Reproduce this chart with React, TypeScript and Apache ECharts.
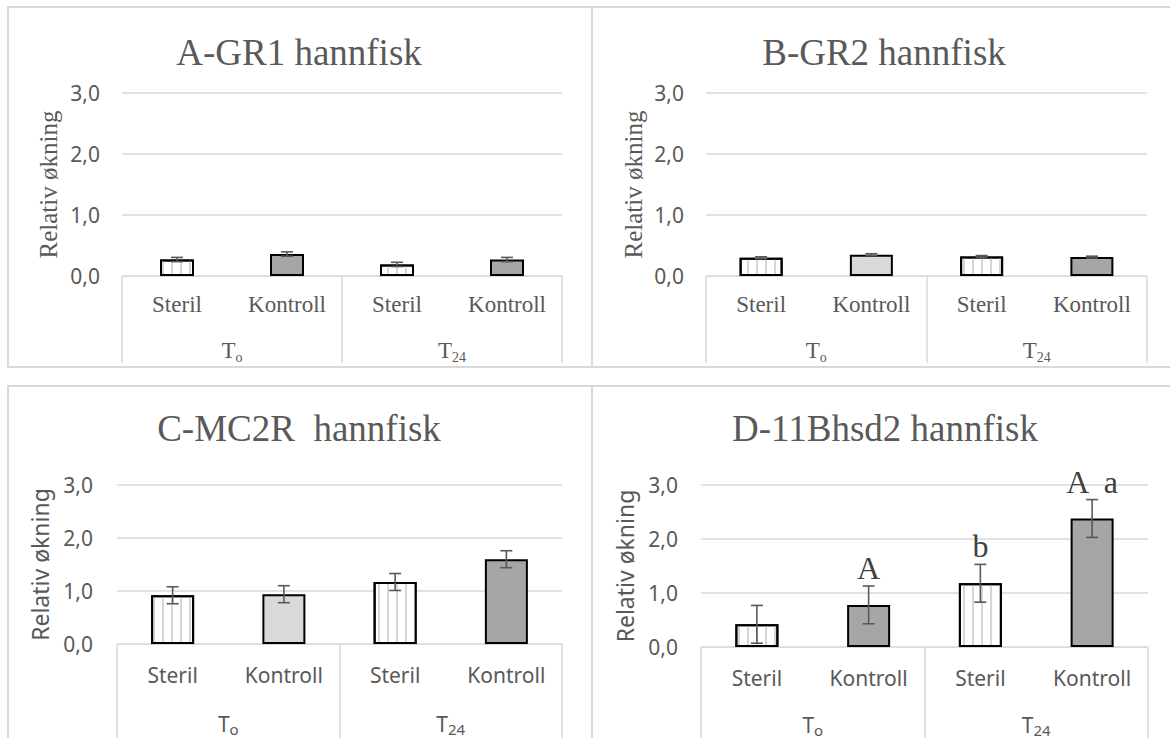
import React, { useEffect, useRef } from 'react';
import * as echarts from 'echarts';

// ---------- data ----------
const categories = ['Steril', 'Kontroll', 'Steril', 'Kontroll'];
const groups = ['To', 'T24'];
const titles = ['A-GR1 hannfisk', 'B-GR2 hannfisk', 'C-MC2R  hannfisk', 'D-11Bhsd2 hannfisk'];
const yAxisName = 'Relativ økning';

const valuesA = [0.27, 0.36, 0.19, 0.27];
const errorsA = [0.035, 0.035, 0.035, 0.035];
const valuesB = [0.30, 0.35, 0.32, 0.31];
const errorsB = [0.015, 0.015, 0.015, 0.015];
const valuesC = [0.92, 0.94, 1.17, 1.60];
const errorsC = [0.16, 0.16, 0.16, 0.16];
const valuesD = [0.42, 0.78, 1.18, 2.38];
const errorsD = [0.35, 0.35, 0.35, 0.35];
const lettersD = ['', 'A', 'b', 'A  a'];

// bar kind per panel: s = steril (striped), d = dark kontroll, l = light kontroll
const kindsA = ['s', 'd', 's', 'd'];
const kindsB = ['s', 'l', 's', 'd'];
const kindsC = ['s', 'l', 's', 'd'];
const kindsD = ['s', 'd', 's', 'd'];

// ---------- styles / layout ----------
const SERIF = 'Liberation Serif';
const SANS = 'Noto Sans';
const TXT = '#595959';
const GRIDC = '#d9d9d9';

const panels = [
  { values: valuesA, errors: errorsA, kinds: kindsA, serifCats: true,
    grid: { left: 122, top: 93, width: 440, height: 183 }, barWidth: 34,
    titleX: 299, titleY: 34, nameX: 48, catMargin: 17, grpMargin: 60, grpLH: 28, grpTick: 87, labelMargin: 22 },
  { values: valuesB, errors: errorsB, kinds: kindsB, serifCats: true,
    grid: { left: 706, top: 93, width: 441, height: 183 }, barWidth: 43,
    titleX: 884, titleY: 34, nameX: 633, catMargin: 17, grpMargin: 60, grpLH: 28, grpTick: 87, labelMargin: 22 },
  { values: valuesC, errors: errorsC, kinds: kindsC, serifCats: false,
    grid: { left: 117, top: 485, width: 445, height: 159 }, barWidth: 43,
    titleX: 299, titleY: 410, nameX: 40, catMargin: 20, grpMargin: 68, grpLH: 24, grpTick: 120, labelMargin: 24 },
  { values: valuesD, errors: errorsD, kinds: kindsD, serifCats: false,
    grid: { left: 701, top: 485, width: 447, height: 162 }, barWidth: 43,
    titleX: 885, titleY: 410, nameX: 625, catMargin: 20, grpMargin: 66, grpLH: 24, grpTick: 120, labelMargin: 23 },
];

const stripeDecal = {
  symbol: 'rect',
  symbolSize: 1,
  dashArrayX: [2, 7],
  dashArrayY: [10, 0],
  rotation: 0,
  color: '#d6d6d6',
  backgroundColor: '#ffffff',
};

function barItem(v: number, kind: string) {
  if (kind === 's') {
    return { value: v, itemStyle: { color: '#ffffff', decal: stripeDecal } };
  }
  return { value: v, itemStyle: { color: kind === 'l' ? '#d9d9d9' : '#a6a6a6' } };
}

function buildOption() {
  const grid: any[] = [];
  const xAxis: any[] = [];
  const yAxis: any[] = [];
  const series: any[] = [];
  const title: any[] = [];
  const graphic: any[] = [];

  // panel frames
  graphic.push(
    { type: 'rect', shape: { x: 8, y: 7, width: 584, height: 360 }, style: { fill: 'none', stroke: GRIDC, lineWidth: 2 }, silent: true },
    { type: 'rect', shape: { x: 592, y: 7, width: 584, height: 360 }, style: { fill: 'none', stroke: GRIDC, lineWidth: 2 }, silent: true },
    { type: 'rect', shape: { x: 8, y: 386, width: 584, height: 420 }, style: { fill: 'none', stroke: GRIDC, lineWidth: 2 }, silent: true },
    { type: 'rect', shape: { x: 592, y: 386, width: 584, height: 420 }, style: { fill: 'none', stroke: GRIDC, lineWidth: 2 }, silent: true },
  );

  panels.forEach((p, i) => {
    grid.push({ ...p.grid, containLabel: false });
    const catFont = p.serifCats ? SERIF : SANS;
    const catSize = p.serifCats ? 23 : 21;
    xAxis.push({
      type: 'category',
      gridIndex: i,
      data: categories,
      position: 'bottom',
      axisLine: { show: true, lineStyle: { color: GRIDC, width: 1 } },
      axisTick: { show: false },
      axisLabel: { interval: 0, margin: p.catMargin, color: TXT, fontFamily: catFont, fontSize: catSize },
    });
    xAxis.push({
      type: 'category',
      gridIndex: i,
      data: groups,
      position: 'bottom',
      axisLine: { show: false },
      axisTick: { show: true, length: p.grpTick, lineStyle: { color: GRIDC, width: 1.5 } },
      axisLabel: {
        interval: 0,
        margin: p.grpMargin,
        formatter: (v: string) => `{t|${v.slice(0, 1)}}{s|${v.slice(1)}}`,
        rich: {
          t: { fontFamily: catFont, fontSize: catSize, color: TXT, lineHeight: p.grpLH },
          s: { fontFamily: catFont, fontSize: p.serifCats ? 14 : 15, color: TXT, lineHeight: 14, verticalAlign: 'bottom' },
        },
      },
    });
    yAxis.push({
      type: 'value',
      gridIndex: i,
      min: 0,
      max: 3,
      interval: 1,
      axisLine: { show: false },
      axisTick: { show: false },
      splitLine: { show: true, lineStyle: { color: GRIDC, width: 1.5 } },
      axisLabel: {
        margin: p.labelMargin,
        color: TXT,
        fontFamily: SANS,
        fontSize: 21,
        formatter: (v: number) => v.toFixed(1).replace('.', ','),
      },
    });

    title.push({
      text: titles[i],
      left: p.titleX,
      top: p.titleY,
      textAlign: 'center',
      padding: 0,
      textStyle: { fontFamily: SERIF, fontSize: 37, fontWeight: 'normal', color: TXT },
    });

    graphic.push({
      type: 'text',
      x: p.nameX,
      y: p.grid.top + p.grid.height / 2,
      rotation: Math.PI / 2,
      silent: true,
      style: {
        text: yAxisName,
        fill: TXT,
        fontFamily: p.serifCats ? SERIF : SANS,
        fontSize: p.serifCats ? 25 : 23,
        align: 'center',
        verticalAlign: 'middle',
      },
    });

    series.push({
      type: 'bar',
      xAxisIndex: 2 * i,
      yAxisIndex: i,
      barWidth: p.barWidth,
      itemStyle: { borderColor: '#000000', borderWidth: 2 },
      data: p.values.map((v, k) => barItem(v, p.kinds[k])),
      z: 2,
    });

    series.push({
      type: 'custom',
      xAxisIndex: 2 * i,
      yAxisIndex: i,
      z: 5,
      encode: { x: 0, y: 1 },
      data: p.values.map((v, k) => [k, v, p.errors[k]]),
      renderItem: (params: any, api: any) => {
        const x = api.value(0);
        const v = api.value(1);
        const e = api.value(2);
        const top = api.coord([x, v + e]);
        const bot = api.coord([x, v - e]);
        const hw = 6;
        const st = { stroke: '#595959', lineWidth: 1.6 };
        return {
          type: 'group',
          children: [
            { type: 'line', shape: { x1: top[0], y1: top[1], x2: bot[0], y2: bot[1] }, style: st },
            { type: 'line', shape: { x1: top[0] - hw, y1: top[1], x2: top[0] + hw, y2: top[1] }, style: st },
            { type: 'line', shape: { x1: bot[0] - hw, y1: bot[1], x2: bot[0] + hw, y2: bot[1] }, style: st },
          ],
        };
      },
    });
  });

  // significance letters on panel D
  series.push({
    type: 'custom',
    xAxisIndex: 6,
    yAxisIndex: 3,
    z: 6,
    encode: { x: 0, y: 1 },
    data: valuesD.map((v, k) => [k, v + errorsD[k]]),
    renderItem: (params: any, api: any) => {
      const pt = api.coord([api.value(0), api.value(1)]);
      return {
        type: 'text',
        x: pt[0],
        y: pt[1] - 2,
        style: {
          text: lettersD[params.dataIndex],
          fill: '#404040',
          fontFamily: SERIF,
          fontSize: 32,
          align: 'center',
          verticalAlign: 'bottom',
        },
      };
    },
  });

  return {
    animation: false,
    backgroundColor: '#ffffff',
    title,
    grid,
    xAxis,
    yAxis,
    series,
    graphic,
  };
}

export default function App() {
  const ref = useRef<HTMLDivElement>(null);
  useEffect(() => {
    if (!ref.current) return;
    const chart = echarts.init(ref.current, undefined, { renderer: 'svg' });
    chart.setOption(buildOption() as any);
    return () => {
      chart.dispose();
    };
  }, []);
  return (
    <div
      ref={ref}
      style={{ position: 'absolute', left: 0, top: 0, width: 1170, height: 738, background: '#fff' }}
    />
  );
}
